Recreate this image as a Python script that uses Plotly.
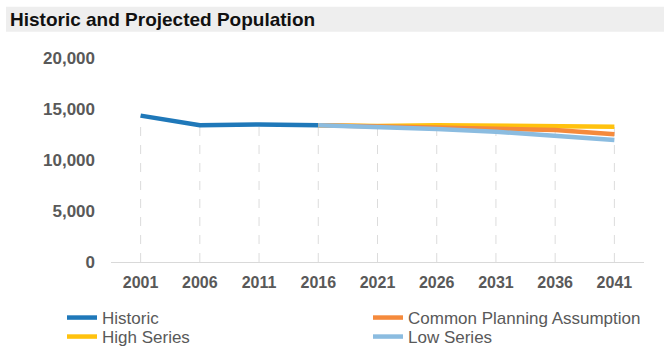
import plotly.graph_objects as go

years = [2001, 2006, 2011, 2016, 2021, 2026, 2031, 2036, 2041]
historic_years = [2001, 2006, 2011, 2016]
historic = [14350, 13400, 13480, 13400]
proj_years = [2016, 2021, 2026, 2031, 2036, 2041]
cpa = [13400, 13300, 13250, 13140, 12950, 12520]
high = [13400, 13330, 13400, 13340, 13290, 13270]
low = [13400, 13270, 13050, 12780, 12360, 11960]
y_ticks = [0, 5000, 10000, 15000, 20000]

W, H = 664, 347
L, R, T, B = 111, 20, 58, 85
pw, ph = W - L - R, H - T - B

def px_x(x):
    return (x - L) / pw

def px_y(y):
    return (H - B - y) / ph

# drop lines: from 0 up to the highest value at each year
allvals = {}
for xs, ys in [(historic_years, historic), (proj_years, cpa), (proj_years, high), (proj_years, low)]:
    for x, v in zip(xs, ys):
        allvals[x] = max(allvals.get(x, 0), v)
dx, dy = [], []
for x in years:
    dx += [x, x, None]
    dy += [0, allvals[x], None]

fig = go.Figure()
fig.add_trace(go.Scatter(x=dx, y=dy, mode="lines", showlegend=False, hoverinfo="skip",
                         line=dict(color="#DCDCDC", width=1, dash="dash")))
fig.add_trace(go.Scatter(x=historic_years, y=historic, name="Historic", mode="lines",
                         line=dict(color="#1F78B9", width=4.5), legend="legend"))
fig.add_trace(go.Scatter(x=proj_years, y=high, name="High Series", mode="lines",
                         line=dict(color="#FFC20E", width=4.5), legend="legend3"))
fig.add_trace(go.Scatter(x=proj_years, y=cpa, name="Common Planning Assumption", mode="lines",
                         line=dict(color="#F58A3C", width=4.5), legend="legend2"))
fig.add_trace(go.Scatter(x=proj_years, y=low, name="Low Series", mode="lines",
                         line=dict(color="#8BBCE0", width=4.5), legend="legend4"))

font_x = dict(family="Liberation Sans, Arial", size=16, color="#595959")
font_y = dict(family="Liberation Sans, Arial", size=17, color="#595959")
legfont = dict(family="Liberation Sans, Arial", size=17, color="#595959")

def leg(xpx, ypx):
    return dict(xref="container", yref="container", x=xpx / W, y=1 - ypx / H,
                xanchor="left", yanchor="middle", orientation="v", font=legfont,
                bgcolor="rgba(0,0,0,0)", borderwidth=0, itemclick=False)

fig.update_layout(
    width=W, height=H,
    margin=dict(l=L, r=R, t=T, b=B, autoexpand=False),
    paper_bgcolor="white", plot_bgcolor="white",
    title=dict(text="<b>Historic and Projected Population</b>", xref="container", x=10 / W,
               xanchor="left", yref="container", y=1 - 19.5 / H, yanchor="middle",
               font=dict(family="Liberation Sans, Arial", size=19, color="#111111")),
    xaxis=dict(range=[1998.5, 2043.5], tickvals=years, ticktext=[f"<b>{y}</b>" for y in years],
               showgrid=False, zeroline=False, showline=True, linecolor="#D9D9D9", linewidth=1,
               tickfont=font_x, ticks="", ticklabelstandoff=6, fixedrange=True,
               tickangle=0, automargin=False),
    yaxis=dict(range=[0, 20000], tickvals=y_ticks, ticktext=[f"<b>{v:,}</b>" for v in y_ticks],
               showgrid=False, zeroline=False, showline=False, tickfont=font_y,
               ticks="", ticklabelstandoff=15, fixedrange=True, automargin=False),
    legend=leg(62, 318),
    legend2=leg(368, 318),
    legend3=leg(62, 337),
    legend4=leg(368, 337),
    shapes=[dict(type="rect", xref="paper", yref="paper", layer="below",
                 x0=px_x(6), x1=px_x(664), y0=px_y(31.7), y1=px_y(6.7),
                 fillcolor="#EEEEEE", line=dict(width=0))],
    showlegend=True,
)
fig.write_html("out.html")
